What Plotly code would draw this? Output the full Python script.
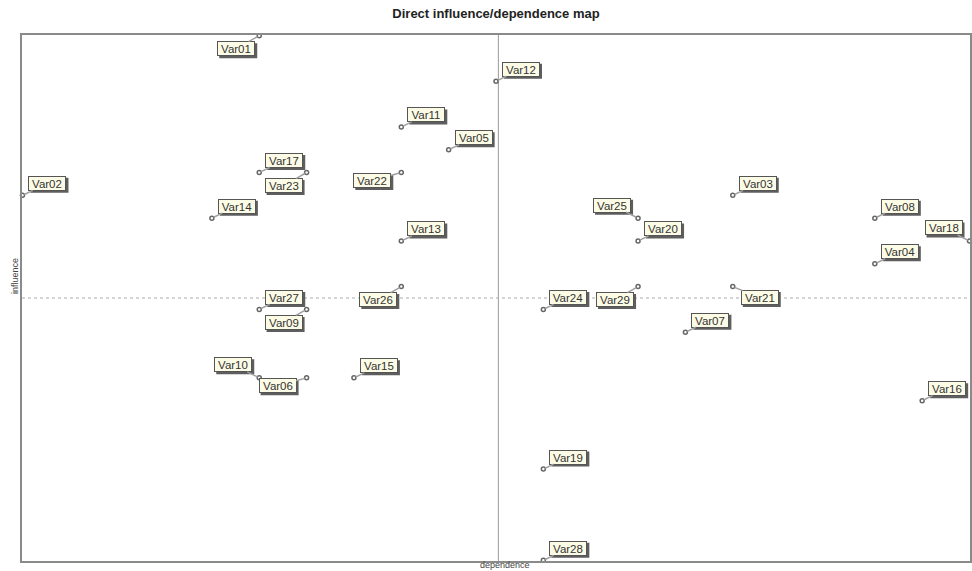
import plotly.graph_objects as go

# ---- data ----
variables = ["Var01", "Var02", "Var03", "Var04", "Var05", "Var06", "Var07", "Var08", "Var09", "Var10",
             "Var11", "Var12", "Var13", "Var14", "Var15", "Var16", "Var17", "Var18", "Var19", "Var20",
             "Var21", "Var22", "Var23", "Var24", "Var25", "Var26", "Var27", "Var28", "Var29"]
dependence = [8, 3, 18, 21, 12, 9, 17, 21, 9, 8,
              11, 13, 11, 7, 10, 22, 8, 23, 14, 16,
              18, 11, 9, 14, 16, 11, 8, 14, 16]
influence = [25, 18, 18, 15, 20, 10, 12, 17, 13, 10,
             21, 23, 16, 17, 10, 9, 19, 16, 6, 16,
             14, 19, 19, 13, 17, 14, 13, 2, 14]
dependence_mid = 13.05
influence_mid = 13.5

title_text = "Direct influence/dependence map"
x_title = "dependence"
y_title = "influence"

# ---- label placement (style only) ----
OFFSETS = {"ur": (25, -12), "ll": (-23, 13), "ul": (-26, -13), "lr": (27, 11), "l": (-29, 8)}
placement = {"Var01": "ll", "Var23": "ll", "Var22": "l", "Var25": "ul", "Var18": "ul",
             "Var26": "ll", "Var09": "ll", "Var29": "ll", "Var21": "lr", "Var10": "ul",
             "Var06": "l"}
BOX_W, BOX_H = 38, 15
FONT = "Liberation Sans, Arial, sans-serif"

W, H = 972, 571
ML, MR, MT, MB = 22, 2, 35, 10
PW, PH = W - ML - MR, H - MT - MB

fig = go.Figure()
fig.add_trace(go.Scatter(
    x=dependence, y=influence, mode="markers", text=variables,
    marker=dict(symbol="circle-open", size=4, color="#666", line=dict(width=1.5, color="#666")),
    cliponaxis=False, showlegend=False, hoverinfo="text"))

annotations = []
shapes = [
    dict(type="line", xref="x", yref="paper", x0=dependence_mid, x1=dependence_mid, y0=0, y1=1,
         line=dict(color="#999", width=1), layer="below"),
    dict(type="line", xref="paper", yref="y", x0=0, x1=1, y0=influence_mid, y1=influence_mid,
         line=dict(color="#aaa", width=1, dash="dot"), layer="below"),
]
for name, dx, iy in zip(variables, dependence, influence):
    ax, ay = OFFSETS[placement.get(name, "ur")]
    # drop shadow of the label box
    shapes.append(dict(type="rect", xref="x", yref="y", xsizemode="pixel", ysizemode="pixel",
                       xanchor=dx, yanchor=iy,
                       x0=ax + 2 - BOX_W / 2, x1=ax + 2 + BOX_W / 2,
                       y0=-ay - 2 - BOX_H / 2, y1=-ay - 2 + BOX_H / 2,
                       fillcolor="#5e5e5e", line=dict(width=0), layer="above"))
    annotations.append(dict(
        x=dx, y=iy, xref="x", yref="y", text=name, ax=ax, ay=ay,
        width=34, height=11, borderpad=1, borderwidth=1,
        showarrow=True, arrowhead=0, arrowwidth=1.5, arrowcolor="#a0a0a0", standoff=2,
        bgcolor="#fcfce6", bordercolor="#555",
        font=dict(family=FONT, size=11.5, color="#333")))

annotations.append(dict(text=x_title, xref="paper", yref="paper", x=(505 - ML) / PW, y=-10 / PH,
                        yanchor="bottom", xanchor="center", showarrow=False, borderpad=0,
                        font=dict(family=FONT, size=9, color="#444")))
annotations.append(dict(text=y_title, xref="paper", yref="paper", x=-7 / PW, y=(H - MB - 276) / PH,
                        xanchor="center", yanchor="middle", textangle=-90, showarrow=False,
                        font=dict(family=FONT, size=9, color="#444")))

fig.update_layout(
    width=W, height=H,
    margin=dict(l=ML, r=MR, t=MT, b=MB, autoexpand=False),
    paper_bgcolor="white", plot_bgcolor="white",
    title=dict(text="<b>" + title_text + "</b>", x=0.5, xref="paper", y=1 - 13 / H, yanchor="middle",
               font=dict(family=FONT, size=13, color="#222")),
    xaxis=dict(range=[2.99, 23.01], showgrid=False, zeroline=False, showticklabels=False,
               ticks="", showline=True, mirror=True, linecolor="#8a8a8a", linewidth=1.5),
    yaxis=dict(range=[1.97, 25.03], showgrid=False, zeroline=False, showticklabels=False,
               ticks="", showline=True, mirror=True, linecolor="#8a8a8a", linewidth=1.5),
    annotations=annotations,
    shapes=shapes,
)

fig.write_html("out.html", config={"displayModeBar": False},
               post_script="document.body.style.margin='0';document.body.style.overflow='hidden';")
